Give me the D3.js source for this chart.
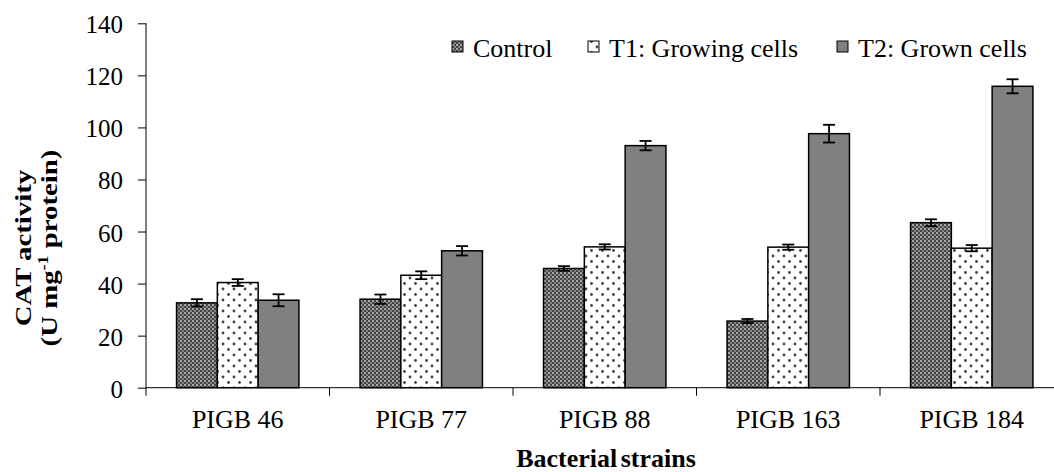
<!DOCTYPE html>
<html>
<head>
<meta charset="utf-8">
<script src="https://cdn.jsdelivr.net/npm/d3@7"></script>
<style>
  body { margin: 0; background: #fff; }
  svg { display: block; }
  svg text { font-family: "Liberation Serif", "Times New Roman", serif; }
</style>
</head>
<body>
<svg id="chart" width="1054" height="472"></svg>
<script>
const strains = ["PIGB 46", "PIGB 77", "PIGB 88", "PIGB 163", "PIGB 184"];
const seriesNames = ["Control", "T1: Growing cells", "T2: Grown cells"];
const control = [32.6, 34, 45.8, 25.6, 63.4];
const t1 = [40.4, 43.2, 54.1, 54, 53.6];
const t2 = [33.6, 52.6, 93, 97.6, 115.8];
const controlErr = [1.4, 1.8, 0.9, 0.8, 1.3];
const t1Err = [1.3, 1.5, 1.0, 1.0, 1.2];
const t2Err = [2.3, 1.8, 1.8, 3.4, 2.7];
const yTicks = [0, 20, 40, 60, 80, 100, 120, 140];

const svg = d3.select("#chart");
const FONT = "Liberation Serif";

// patterns
const defs = svg.append("defs");
let pc = defs.append("pattern").attr("id", "pat0").attr("patternUnits", "userSpaceOnUse")
  .attr("width", 4).attr("height", 4);
pc.append("rect").attr("width", 4).attr("height", 4).attr("fill", "#454545");
pc.append("rect").attr("x", 0).attr("y", 0).attr("width", 2).attr("height", 2).attr("fill", "#a8a8a8");
pc.append("rect").attr("x", 2).attr("y", 2).attr("width", 2).attr("height", 2).attr("fill", "#858585");

let pt = defs.append("pattern").attr("id", "pat1").attr("patternUnits", "userSpaceOnUse")
  .attr("width", 11).attr("height", 11);
pt.append("rect").attr("width", 11).attr("height", 11).attr("fill", "#fff");
pt.append("circle").attr("cx", 3).attr("cy", 3).attr("r", 1.4).attr("fill", "#444");
pt.append("circle").attr("cx", 8.5).attr("cy", 8.5).attr("r", 1.4).attr("fill", "#444");

const fills = ["url(#pat0)", "url(#pat1)", "#808080"];

const x0 = d3.scaleBand().domain(strains).range([146, 1063.5])
  .paddingInner(0.333).paddingOuter(0.1665);
const x1 = d3.scaleBand().domain(d3.range(3)).range([0, x0.bandwidth()]);
const y = d3.scaleLinear().domain([0, 140]).range([387.7, 23.3]);

const vals = [control, t1, t2];
const errs = [controlErr, t1Err, t2Err];

const rows = [];
strains.forEach((s, i) => {
  for (let k = 0; k < 3; k++) rows.push({s: s, k: k, v: vals[k][i], e: errs[k][i]});
});

// y axis
const yAxis = svg.append("g").attr("transform", "translate(146,0)")
  .call(d3.axisLeft(y).tickValues(yTicks).tickSize(8).tickPadding(15));
yAxis.attr("font-family", FONT).attr("font-size", 25);
yAxis.selectAll("text").attr("fill", "#000").attr("dy", "0.38em");
yAxis.selectAll("line, path").attr("stroke", "#000");
yAxis.select("path").attr("d", "M0," + y(140) + "V" + y(0));

// bars
svg.append("g").selectAll("rect.bar").data(rows).join("rect")
  .attr("class", "bar")
  .attr("x", d => x0(d.s) + x1(d.k))
  .attr("y", d => y(d.v))
  .attr("width", x1.bandwidth())
  .attr("height", d => y(0) - y(d.v))
  .attr("fill", d => fills[d.k])
  .attr("stroke", "#000").attr("stroke-width", 1.5);

// error bars
const eb = svg.append("g").attr("stroke", "#000").attr("stroke-width", 1.8);
rows.forEach(d => {
  const cx = x0(d.s) + x1(d.k) + x1.bandwidth() / 2;
  eb.append("line").attr("x1", cx).attr("x2", cx).attr("y1", y(d.v + d.e)).attr("y2", y(d.v - d.e));
  eb.append("line").attr("x1", cx - 6).attr("x2", cx + 6).attr("y1", y(d.v + d.e)).attr("y2", y(d.v + d.e));
  eb.append("line").attr("x1", cx - 6).attr("x2", cx + 6).attr("y1", y(d.v - d.e)).attr("y2", y(d.v - d.e));
});

// x axis
const xAxis = svg.append("g").attr("transform", "translate(0," + y(0) + ")");
xAxis.append("line").attr("x1", 146).attr("x2", 1054).attr("stroke", "#000");
const bounds = strains.map(s => x0(s) - x0.step() * x0.paddingInner() / 2).concat([1063.5]);
xAxis.selectAll("line.tk").data(bounds).join("line").attr("class", "tk")
  .attr("x1", d => d).attr("x2", d => d).attr("y1", 0).attr("y2", 8).attr("stroke", "#000");
xAxis.selectAll("text").data(strains).join("text")
  .attr("x", d => x0(d) + x0.bandwidth() / 2).attr("y", 40)
  .attr("text-anchor", "middle").attr("font-size", 26).text(d => d);

// titles
svg.append("text").attr("x", 606).attr("y", 467).attr("text-anchor", "middle")
  .attr("font-size", 26).attr("font-weight", "bold").attr("word-spacing", -3)
  .text("Bacterial strains");

const yl = svg.append("text").attr("transform", "translate(0,248) rotate(-90) scale(1.2,1)")
  .attr("text-anchor", "middle").attr("font-size", 24).attr("font-weight", "bold");
yl.append("tspan").attr("x", 0).attr("y", 31).text("CAT activity");
const l2 = yl.append("tspan").attr("x", 0).attr("y", 57);
l2.append("tspan").text("(U mg");
l2.append("tspan").attr("font-size", 15).attr("dy", -9).text("-1");
l2.append("tspan").attr("dy", 9).text(" protein)");

// legend (clipped at bottom like the source)
defs.append("clipPath").attr("id", "legclip").append("rect")
  .attr("x", 400).attr("y", 20).attr("width", 654).attr("height", 42);
const legX = [452, 588, 837];
const leg = svg.append("g").attr("clip-path", "url(#legclip)");
seriesNames.forEach((n, k) => {
  leg.append("rect").attr("x", legX[k]).attr("y", 41).attr("width", 11).attr("height", 11)
    .attr("fill", fills[k]).attr("stroke", "#000").attr("stroke-width", 1);
  leg.append("text").attr("x", legX[k] + 21).attr("y", 57)
    .attr("font-family", FONT).attr("font-size", 26).text(n);
});
</script>
</body>
</html>
